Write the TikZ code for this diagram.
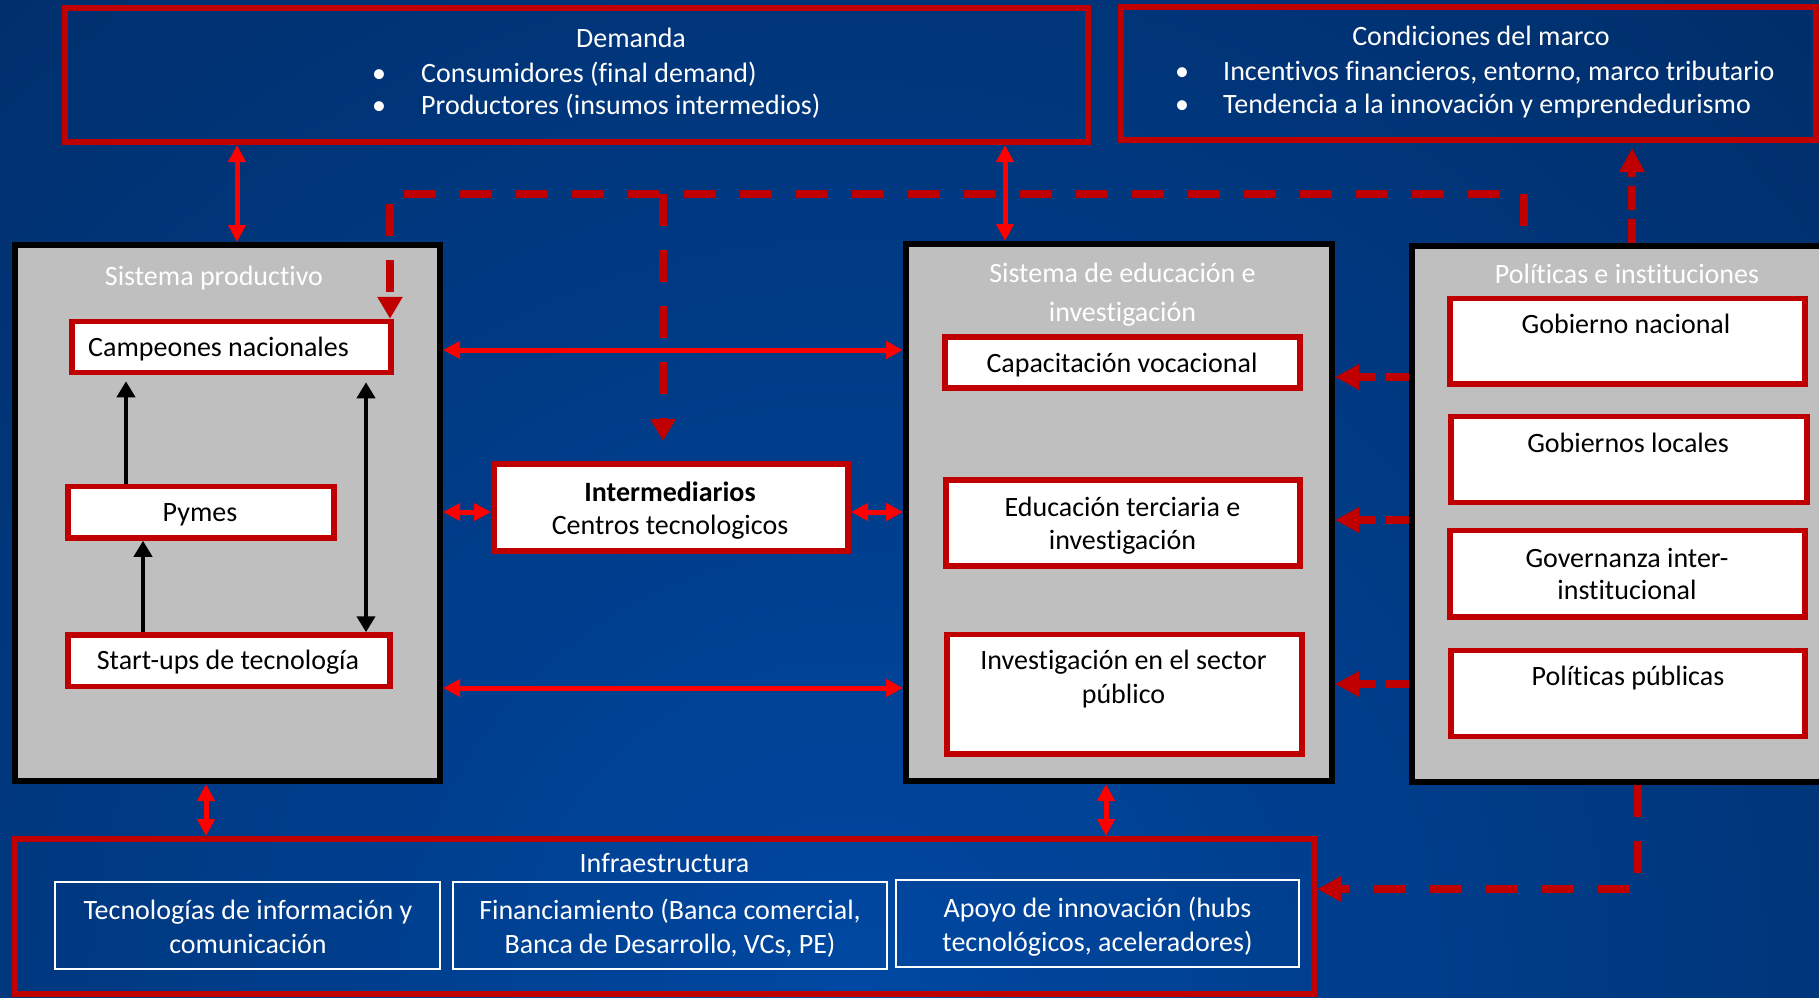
\documentclass[tikz,border=0pt]{standalone}
\usepackage{fontspec}
\setmainfont{Carlito}[Ligatures=NoCommon]
\usetikzlibrary{arrows.meta,calc}
\definecolor{dred}{RGB}{192,0,0}
\definecolor{bred}{RGB}{255,0,0}
\definecolor{bgdark}{RGB}{0,34,80}
\definecolor{bglight}{RGB}{0,72,162}
\definecolor{boxgray}{RGB}{191,191,191}
\begin{document}
\begin{tikzpicture}[x=1pt,y=-1pt,
  redbox/.style={draw=dred, line width=5.5pt, fill=white, rectangle, inner sep=0pt},
  outerred/.style={draw=dred, line width=6pt, rectangle, inner sep=0pt},
  graybox/.style={draw=black, line width=6pt, fill=boxgray, rectangle, inner sep=0pt},
  wbox/.style={draw=white, line width=2.5pt, rectangle, inner sep=0pt},
  txt/.style={font=\fontsize{28pt}{33pt}\selectfont, inner sep=0pt, text height=23pt, text depth=5pt},
  wtxt/.style={txt, text=white},
  redarr/.style={draw=bred, line width=5pt, {Triangle[length=17pt,width=17pt]}-{Triangle[length=17pt,width=17pt]}},
  blkarr/.style={draw=black, line width=4pt, -{Triangle[length=16pt,width=18pt]}},
  blkdbl/.style={draw=black, line width=4pt, {Triangle[length=16pt,width=18pt]}-{Triangle[length=16pt,width=18pt]}},
  dasharr/.style={draw=dred, line width=7.5pt, dash pattern=on 24pt off 9pt, -{Triangle[length=24pt,width=24pt]}},
  longdash/.style={draw=dred, line width=7.5pt, dash pattern=on 32pt off 24pt, -{Triangle[length=22pt,width=24pt]}}
]
\useasboundingbox (0,0) rectangle (1819,997);
% background
\fill[bgdark] (0,0) rectangle (1819,997);
\begin{scope}
  \clip (0,0) rectangle (1819,997);
  \shade[inner color=bglight, outer color=bgdark] (850,1000) circle (2000pt);
\end{scope}

% big boxes
\node[outerred, minimum width=1023pt, minimum height=134pt] (dem) at (576.5,75) {};
\node[outerred, minimum width=695pt, minimum height=133pt] (cond) at (1468.5,73.5) {};
\node[graybox, minimum width=425pt, minimum height=536pt] (prod) at (227.5,513) {};
\node[graybox, minimum width=426pt, minimum height=537pt] (edu) at (1119,512.5) {};
\node[graybox, minimum width=418pt, minimum height=536pt] (pol) at (1621,514) {};
\node[outerred, minimum width=1299pt, minimum height=155pt] (infra) at (664.5,916.5) {};

% Demanda text
\node[wtxt] (tdem) at (631,38) {Demanda};
\node[wtxt] (bd1) at (379,73) {•};
\node[wtxt, anchor=west] (td1) at (421,73) {Consumidores (final demand)};
\node[wtxt] (bd2) at (379,105) {•};
\node[wtxt, anchor=west] (td2) at (421,105) {Productores (insumos intermedios)};

% Condiciones text
\node[wtxt] (tcond) at (1481,36) {Condiciones del marco};
\node[wtxt] (bc1) at (1182,71) {•};
\node[wtxt, anchor=west] (tc1) at (1223,71) {Incentivos financieros, entorno, marco tributario};
\node[wtxt] (bc2) at (1182,104) {•};
\node[wtxt, anchor=west] (tc2) at (1223,104) {Tendencia a la innovación y emprendedurismo};

% Sistema productivo
\node[wtxt] (tprod) at (214,276) {Sistema productivo};
\node[redbox, minimum width=319pt, minimum height=51pt] (camp) at (231.5,347) {};
\node[txt, anchor=west] (tcamp) at (88,347) {Campeones nacionales};
\node[redbox, minimum width=266pt, minimum height=51.5pt] (pymes) at (201,512.25) {};
\node[txt] (tpymes) at (200,512) {Pymes};
\node[redbox, minimum width=322pt, minimum height=51.5pt] (start) at (229,660.75) {};
\node[txt] (tstart) at (228,660) {Start-ups de tecnología};

% Intermediarios
\node[redbox, line width=6pt, minimum width=354pt, minimum height=87pt] (inter) at (671,507.5) {};
\node[txt] (tinter1) at (670,492.5) {\textbf{Intermediarios}};
\node[txt] (tinter2) at (670,525.5) {Centros tecnologicos};

% Sistema de educacion
\node[wtxt] (tedu1) at (1122.5,273) {Sistema de educación e};
\node[wtxt] (tedu2) at (1122.5,312) {investigación};
\node[redbox, minimum width=355pt, minimum height=51pt] (capac) at (1122.5,362.5) {};
\node[txt] (tcapac) at (1122,363) {Capacitación vocacional};
\node[redbox, minimum width=354pt, minimum height=86pt] (terc) at (1123,523) {};
\node[txt] (tterc1) at (1122.5,507) {Educación terciaria e};
\node[txt] (tterc2) at (1122.5,540) {investigación};
\node[redbox, minimum width=355pt, minimum height=119.5pt] (inv) at (1124.5,694.25) {};
\node[txt] (tinv1) at (1123.5,660.5) {Investigación en el sector};
\node[txt] (tinv2) at (1123.5,694) {público};

% Politicas
\node[wtxt] (tpol) at (1627,274) {Políticas e instituciones};
\node[redbox, minimum width=355pt, minimum height=85.5pt] (gobn) at (1627.5,341.25) {};
\node[txt] (tgobn) at (1626,324.5) {Gobierno nacional};
\node[redbox, minimum width=356pt, minimum height=86pt] (gobl) at (1629,459.5) {};
\node[txt] (tgobl) at (1628,443) {Gobiernos locales};
\node[redbox, minimum width=355pt, minimum height=86.5pt] (gov) at (1627.5,573.75) {};
\node[txt] (tgov1) at (1627,558) {Governanza inter-};
\node[txt] (tgov2) at (1627,590) {institucional};
\node[redbox, minimum width=354pt, minimum height=86pt] (polp) at (1628,693.5) {};
\node[txt] (tpolp) at (1628,676.5) {Políticas públicas};

% Infraestructura
\node[wtxt] (tinfra) at (664.5,863) {Infraestructura};
\node[wbox, minimum width=385pt, minimum height=87pt] (ib1) at (247.5,925.5) {};
\node[wtxt] (tib1a) at (248,910) {Tecnologías de información y};
\node[wtxt] (tib1b) at (248,944) {comunicación};
\node[wbox, minimum width=434pt, minimum height=87pt] (ib2) at (670,925.5) {};
\node[wtxt] (tib2a) at (670,910) {Financiamiento (Banca comercial,};
\node[wtxt] (tib2b) at (670,944) {Banca de Desarrollo, VCs, PE)};
\node[wbox, minimum width=403pt, minimum height=87pt] (ib3) at (1097.5,923.5) {};
\node[wtxt] (tib3a) at (1097.5,908) {Apoyo de innovación (hubs};
\node[wtxt] (tib3b) at (1097.5,942) {tecnológicos, aceleradores)};

% helper coordinates
\coordinate (v1) at (237,0);
\coordinate (v2) at (1005,0);
\coordinate (v3) at (206,0);
\coordinate (v4) at (1106,0);
\coordinate (h1) at (0,350);
\coordinate (h2) at (0,688);
\coordinate (h3) at (0,512);
\coordinate (b1) at (126,0);
\coordinate (b2) at (143,0);
\coordinate (b3) at (366,0);
\coordinate (d1) at (0,377);
\coordinate (d2) at (0,520);
\coordinate (d3) at (0,684);
\coordinate (u1) at (1632,0);
\coordinate (r1) at (1638,0);
\coordinate (r2) at (0,889);
\coordinate (p0) at (1524,226);
\coordinate (p1) at (1524,194);
\coordinate (p2) at (390,194);
\coordinate (p3) at (663,194);

% red solid double arrows
\draw[redarr] (dem.south -| v1) -- (prod.north -| v1);
\draw[redarr] (dem.south -| v2) -- (edu.north -| v2);
\draw[redarr] (prod.south -| v3) -- (infra.north -| v3);
\draw[redarr] (edu.south -| v4) -- (infra.north -| v4);
\draw[redarr] (prod.east |- h1) -- (edu.west |- h1);
\draw[redarr] (prod.east |- h2) -- (edu.west |- h2);
\draw[redarr] (prod.east |- h3) -- (inter.west |- h3);
\draw[redarr] (inter.east |- h3) -- (edu.west |- h3);

% black arrows
\draw[blkarr, shorten >=6pt] (pymes.north -| b1) -- (camp.south -| b1);
\draw[blkarr] (start.north -| b2) -- (pymes.south -| b2);
\draw[blkdbl, shorten <=7pt] (camp.south -| b3) -- (start.north -| b3);

% dashed arrows
\draw[dasharr] (pol.west |- d1) -- (edu.east |- d1);
\draw[dasharr] (pol.west |- d2) -- (edu.east |- d2);
\draw[dasharr] (pol.west |- d3) -- (edu.east |- d3);
\draw[dasharr, shorten >=5pt] (pol.north -| u1) -- (cond.south -| u1);
\draw[dasharr, dash pattern=on 32pt off 24pt] (pol.south -| r1) |- (infra.east |- r2);
\draw[longdash] (p0) -- (p1) -- (p2) -- (p2 |- camp.north);
\draw[longdash, shorten >=20pt] (p3) -- (p3 |- inter.north);
\end{tikzpicture}
\end{document}
